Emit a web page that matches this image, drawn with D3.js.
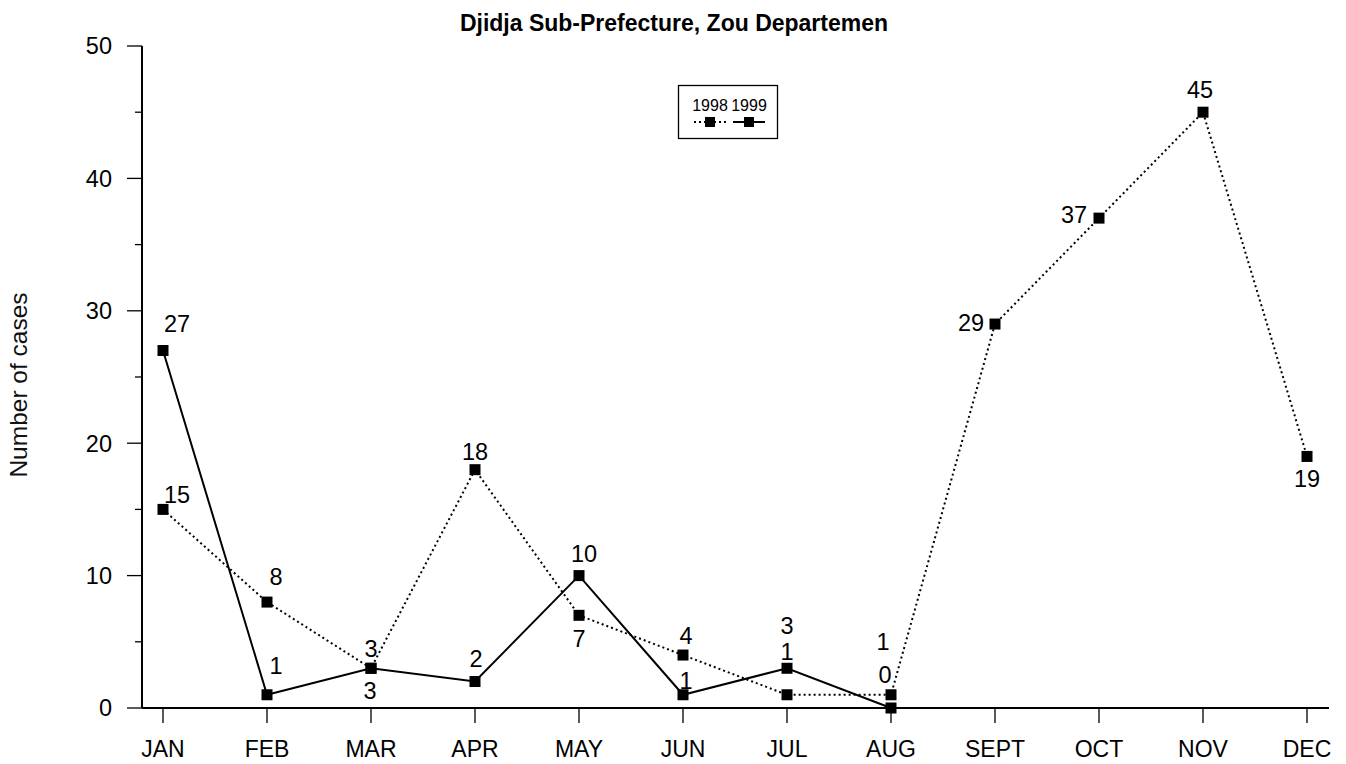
<!DOCTYPE html>
<html><head><meta charset="utf-8">
<script src="https://cdn.jsdelivr.net/npm/d3@7"></script>
<style>body{margin:0;background:#fff}svg{display:block}text{font-family:Arial,"Liberation Sans",sans-serif}</style>
</head><body>
<svg id="c" width="1346" height="764"></svg>
<script>
const months = ["JAN","FEB","MAR","APR","MAY","JUN","JUL","AUG","SEPT","OCT","NOV","DEC"];
const cases1998 = [15,8,3,18,7,4,1,1,29,37,45,19];
const cases1999 = [27,1,3,2,10,1,3,0];
const yTicks = [0,10,20,30,40,50];
const yMinorTicks = [5,15,25,35,45];
// label placement per point: [dx, dy] in px relative to the marker
const labelPos1998 = [[14,-15],[9,-26],[0,-20],[0,-18],[0,23],[3,-20],[0,-43],[-8,-53],[-24,-2],[-25,-4],[-3,-23],[0,22]];
const labelPos1999 = [[14,-27],[9,-29],[-1,22],[1,-23],[5,-22],[3,-14],[0,-43],[-6,-33]];

const svg = d3.select("#c");
const x = d3.scalePoint().domain(months).range([163,1307]);
const y = d3.scaleLinear().domain([0,50]).range([708,46]);

// title
svg.append("text").attr("x",674).attr("y",31).attr("text-anchor","middle")
  .attr("font-size",23).attr("font-weight","bold").text("Djidja Sub-Prefecture, Zou Departemen");

// y axis label
svg.append("text").attr("transform","translate(27,385) rotate(-90)").attr("text-anchor","middle")
  .attr("font-size",24.5).attr("fill","#111").text("Number of cases");

// axes
const gy = svg.append("g").attr("transform","translate(142,0)");
gy.append("line").attr("x1",0).attr("x2",0).attr("y1",y(50)).attr("y2",y(0)).attr("stroke","#000").attr("stroke-width",2);
gy.selectAll(".maj").data(yTicks).join("line").attr("x1",-15).attr("x2",0)
  .attr("y1",d=>y(d)).attr("y2",d=>y(d)).attr("stroke","#000").attr("stroke-width",1.3);
gy.selectAll(".min").data(yMinorTicks).join("line").attr("x1",-7).attr("x2",0)
  .attr("y1",d=>y(d)).attr("y2",d=>y(d)).attr("stroke","#000").attr("stroke-width",1.3);
gy.selectAll(".lab").data(yTicks).join("text").attr("x",-30).attr("y",d=>y(d)).attr("dy","0.36em")
  .attr("text-anchor","end").attr("font-size",23.5).text(d=>d);

const gx = svg.append("g");
gx.append("line").attr("x1",142).attr("x2",1329).attr("y1",y(0)).attr("y2",y(0)).attr("stroke","#000").attr("stroke-width",2);
gx.selectAll(".tk").data(months).join("line").attr("x1",d=>x(d)).attr("x2",d=>x(d))
  .attr("y1",y(0)).attr("y2",y(0)+15).attr("stroke","#000").attr("stroke-width",1.3);
gx.selectAll(".lab").data(months).join("text").attr("x",d=>x(d)).attr("y",757)
  .attr("text-anchor","middle").attr("font-size",23).text(d=>d);

const line = d3.line().x((d,i)=>x(months[i])).y(d=>y(d));

function series(vals, dash, pos){
  const g = svg.append("g");
  g.append("path").datum(vals).attr("d",line).attr("fill","none").attr("stroke","#000")
    .attr("stroke-width",2).attr("stroke-dasharray",dash?"2,3":null);
  g.selectAll("rect").data(vals).join("rect").attr("x",(d,i)=>x(months[i])-5.5).attr("y",d=>y(d)-5.5)
    .attr("width",11).attr("height",11).attr("fill","#000");
  g.selectAll("text").data(vals).join("text").attr("x",(d,i)=>x(months[i])+pos[i][0])
    .attr("y",(d,i)=>y(d)+pos[i][1]).attr("dy","0.36em").attr("text-anchor","middle")
    .attr("font-size",23.5).text(d=>d);
}
series(cases1998,true,labelPos1998);
series(cases1999,false,labelPos1999);

// legend
const lg = svg.append("g");
lg.append("rect").attr("x",678.5).attr("y",85.5).attr("width",99).attr("height",53).attr("fill","#fff").attr("stroke","#000").attr("stroke-width",1.3);
const legItems = ["1998","1999"];
legItems.forEach((t,i)=>{
  const cx = 710 + i*39;
  lg.append("text").attr("x",cx).attr("y",111).attr("text-anchor","middle").attr("font-size",16).text(t);
  lg.append("line").attr("x1",cx-16).attr("x2",cx+16).attr("y1",122).attr("y2",122).attr("stroke","#000")
    .attr("stroke-width",2).attr("stroke-dasharray",i===0?"2,3":null);
  lg.append("rect").attr("x",cx-5).attr("y",117).attr("width",10).attr("height",10).attr("fill","#000");
});
</script>
</body></html>
